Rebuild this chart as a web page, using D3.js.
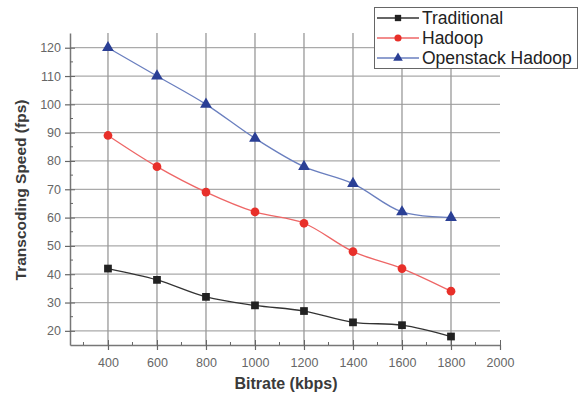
<!DOCTYPE html>
<html><head><meta charset="utf-8">
<script src="https://cdn.jsdelivr.net/npm/d3@7"></script>
<style>body{margin:0;background:#fff}svg{display:block}</style>
</head><body>
<svg id="c" width="586" height="395"></svg>
<script>
const bitrates = [400, 600, 800, 1000, 1200, 1400, 1600, 1800];
const traditional = [42, 38, 32, 29, 27, 23, 22, 18];
const hadoop = [89, 78, 69, 62, 58, 48, 42, 34];
const openstack = [120, 110, 100, 88, 78, 72, 62, 60];
const xTicks = [400, 600, 800, 1000, 1200, 1400, 1600, 1800, 2000];
const yTicks = [20, 30, 40, 50, 60, 70, 80, 90, 100, 110, 120];
const seriesNames = ["Traditional", "Hadoop", "Openstack Hadoop"];

const series = [
  {name: seriesNames[0], values: traditional, color: "#222", sym: d3.symbolSquare, size: 60},
  {name: seriesNames[1], values: hadoop, color: "#e8302a", sym: d3.symbolCircle, size: 60},
  {name: seriesNames[2], values: openstack, color: "#2a3f95", sym: d3.symbolTriangle, size: 60}
];
const lineColors = ["#333", "#e66", "#6a7fbf"];
const FONT = "Liberation Sans, Arial, sans-serif";

const svg = d3.select("#c");
const L = 70, R = 500, T = 33, B = 345;
const x = d3.scaleLinear().domain([245, 2000]).range([L, R]);
const y = d3.scaleLinear().domain([15, 125.2]).range([B, T]);

// grid
const g = svg.append("g");
g.selectAll(".hg").data(yTicks).join("line")
  .attr("x1", L).attr("x2", R).attr("y1", d => y(d)).attr("y2", d => y(d))
  .attr("stroke", "#aaa").attr("stroke-width", 1.3);
g.selectAll(".vg").data(bitrates).join("line")
  .attr("x1", d => x(d)).attr("x2", d => x(d)).attr("y1", T).attr("y2", B)
  .attr("stroke", "#999").attr("stroke-width", 1.3);

// axes
const tickColor = "#666";
const xAxis = svg.append("g").attr("transform", `translate(0,${B})`)
  .call(d3.axisBottom(x).tickValues(xTicks).tickFormat(d3.format("d")).tickSize(5).tickSizeOuter(0).tickPadding(8));
const yAxis = svg.append("g").attr("transform", `translate(${L},0)`)
  .call(d3.axisLeft(y).tickValues(yTicks).tickFormat(d3.format("d")).tickSize(5).tickSizeOuter(0).tickPadding(4));
[xAxis, yAxis].forEach(a => {
  a.select(".domain").attr("stroke", "#777").attr("stroke-width", 1.5);
  a.selectAll(".tick line").attr("stroke", tickColor).attr("stroke-width", 1.2);
  a.selectAll(".tick text").attr("fill", "#666").attr("font-size", 12.5)
    .attr("font-family", FONT);
});
// inner halves of major ticks
xAxis.selectAll(".tick").append("line").attr("y1", 0).attr("y2", -5).attr("stroke", tickColor);
yAxis.selectAll(".tick").append("line").attr("x1", 0).attr("x2", 5).attr("stroke", tickColor);
// minor ticks
const xMinor = d3.range(300, 2000, 200);
const yMinor = d3.range(25, 125, 10);
svg.append("g").selectAll("line").data(xMinor).join("line")
  .attr("x1", d => x(d)).attr("x2", d => x(d)).attr("y1", B).attr("y2", B - 3)
  .attr("stroke", tickColor);
svg.append("g").selectAll("line").data(yMinor).join("line")
  .attr("x1", L).attr("x2", L + 3).attr("y1", d => y(d)).attr("y2", d => y(d))
  .attr("stroke", tickColor);

// axis titles
svg.append("text").attr("x", 286).attr("y", 389).attr("text-anchor", "middle")
  .attr("font-family", FONT).attr("font-size", 16)
  .attr("font-weight", "bold").attr("fill", "#3a3a3a").text("Bitrate (kbps)");
svg.append("text").attr("transform", "translate(26,190) rotate(-90)").attr("text-anchor", "middle")
  .attr("font-family", FONT).attr("font-size", 15.5)
  .attr("font-weight", "bold").attr("fill", "#3a3a3a").text("Transcoding Speed (fps)");

// lines
const line = d3.line().x((d, i) => x(bitrates[i])).y(d => y(d)).curve(d3.curveCatmullRom.alpha(0.5));
series.forEach((s, k) => {
  svg.append("path").attr("d", line(s.values)).attr("fill", "none")
    .attr("stroke", lineColors[k]).attr("stroke-width", 1.3);
  svg.append("g").selectAll("path").data(s.values).join("path")
    .attr("transform", (d, i) => `translate(${x(bitrates[i])},${y(d)})`)
    .attr("d", d3.symbol().type(s.sym).size(s.size)).attr("fill", s.color);
});

// legend
const lg = svg.append("g");
lg.append("rect").attr("x", 374.5).attr("y", 7.5).attr("width", 203).attr("height", 61)
  .attr("fill", "#fff").attr("stroke", "#666").attr("stroke-width", 1);
series.forEach((s, k) => {
  const yy = 18 + k * 20;
  lg.append("line").attr("x1", 377).attr("x2", 419).attr("y1", yy).attr("y2", yy)
    .attr("stroke", lineColors[k]).attr("stroke-width", 1.3);
  lg.append("path").attr("transform", `translate(398,${yy})`)
    .attr("d", d3.symbol().type(s.sym).size(40)).attr("fill", s.color);
  lg.append("text").attr("x", 422).attr("y", yy + 6)
    .attr("font-family", FONT).attr("font-size", 17.5)
    .attr("fill", "#222").text(s.name);
});
</script>
</body></html>
